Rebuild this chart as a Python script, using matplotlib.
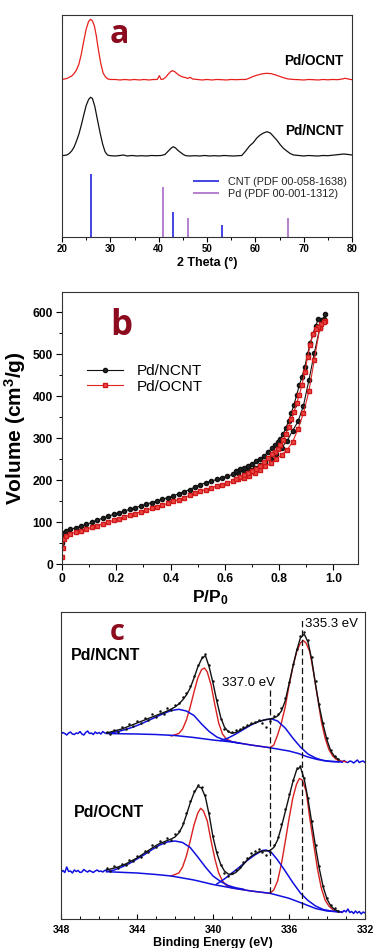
import matplotlib
matplotlib.use('Agg')
import numpy as np
import matplotlib.pyplot as plt
from matplotlib.ticker import MultipleLocator, FixedLocator

plt.rcParams['font.family'] = ['Liberation Sans', 'DejaVu Sans']
plt.rcParams['font.weight'] = 'bold'
plt.rcParams['axes.labelweight'] = 'bold'
plt.rcParams['mathtext.fontset'] = 'custom'
plt.rcParams['mathtext.rm'] = 'Liberation Sans:bold'
plt.rcParams['mathtext.it'] = 'Liberation Sans:bold'
plt.rcParams['mathtext.bf'] = 'Liberation Sans:bold'

# ---------------- (a) XRD ----------------
xrd_2t_ocnt = [20, 21, 22, 22.5, 23, 23.5, 24, 24.5, 25, 25.5,
               25.9, 26.3, 26.7, 27.1, 27.5, 28, 28.5, 29, 29.5, 30,
               31, 32, 33, 34, 35, 36, 37, 38, 39, 39.7,
               40.15, 40.5, 41, 41.5, 42, 42.5, 42.9, 43.4, 44, 44.5,
               45, 45.5, 46, 46.5, 47, 48, 49, 50, 51, 52,
               53, 54, 55, 56, 57, 58, 58.6, 59.5, 60.5, 61.5,
               62.4, 63.3, 64.2, 65.1, 66, 66.8, 68, 69, 70, 71,
               72, 73, 74, 75, 76, 77, 78, 78.6, 79.2, 80]
xrd_int_ocnt = [157.5, 158.5, 161, 163.5, 167, 173, 183, 196, 208, 215.5,
                217.7, 216, 211, 201, 188, 174, 164, 160, 158, 157.5,
                157.5, 157, 157.5, 157, 157.5, 157, 157.5, 157, 157.5, 157.5,
                161.3, 157.5, 158, 160, 163, 165.5, 166.3, 165, 162.5, 161,
                160, 159.5, 158.5, 159.7, 158, 157.5, 157, 157.5, 157, 157.5,
                157.3, 157, 157.5, 157.3, 157.5, 157.5, 158.5, 160.5, 162, 163.2,
                163.7, 163.3, 162, 160.5, 159, 158, 157.5, 157.3, 157, 157.5,
                157.3, 157, 157.5, 157.2, 157.5, 157.3, 158, 158.7, 158, 157.3]

xrd_2t_ncnt = [20, 21, 21.5, 22, 22.5, 23, 23.5, 24, 24.5, 25,
               25.5, 25.9, 26.3, 26.8, 27.3, 27.9, 28.4, 28.9, 29.4, 30,
               31, 32, 32.7, 33.5, 34.5, 35.5, 36.5, 37.5, 38.5, 39.5,
               40.5, 41.3, 42, 42.5, 43, 43.5, 44, 44.6, 45.1, 45.6,
               46.5, 47.5, 48.5, 49.5, 50.5, 51.5, 52.5, 53.5, 54.5, 55.5,
               56.5, 57.2, 58, 58.8, 59.6, 60.3, 61, 61.7, 62.4, 63.1,
               63.8, 64.5, 65.2, 65.8, 66.5, 67.2, 67.9, 69, 70, 71,
               72, 73, 74, 75, 76, 77, 78.3, 79.2, 80]
xrd_int_ncnt = [81.3, 82, 83.5, 86, 90, 96, 103, 112, 122, 131.5,
                137.5, 139.7, 138.5, 130.3, 118, 103.7, 93, 85.3, 82, 81.3,
                81, 81.5, 82, 81, 81.5, 81, 81.3, 81, 81.5, 81.3,
                81.5, 82.5, 86, 88.5, 90.3, 89, 86.5, 84.3, 82.5, 81.3,
                81, 81.3, 81, 81.5, 81, 81.3, 81, 81.5, 81.2, 81,
                81.3, 81.5, 86, 91, 94.5, 99, 102, 104, 105.3, 104,
                100.3, 96.5, 92, 88.7, 86, 83.5, 82, 81.5, 81, 81.5,
                81.2, 81, 81.5, 81.3, 81.8, 82.3, 83, 82.5, 82]

cnt_ref_pos = [25.95, 42.93, 53.2]
cnt_ref_int = [63, 25, 12.3]
pd_ref_pos = [40.85, 46.03, 66.75]
pd_ref_int = [50, 18.7, 18.7]

# ---------------- (b) N2 isotherms ----------------
p_ads = [0.0005, 0.002, 0.006, 0.015, 0.03, 0.05, 0.07, 0.09, 0.11, 0.13,
         0.15, 0.17, 0.19, 0.21, 0.23, 0.25, 0.27, 0.29, 0.31, 0.33,
         0.35, 0.37, 0.39, 0.41, 0.43, 0.45, 0.47, 0.49, 0.51, 0.53,
         0.55, 0.57, 0.59, 0.61, 0.63, 0.65, 0.67, 0.69, 0.71, 0.73,
         0.75, 0.77, 0.79, 0.81, 0.83, 0.85, 0.87, 0.89, 0.91, 0.93,
         0.95, 0.97]
v_ads_ncnt = [50, 66, 74, 79, 83, 87, 91, 95, 100, 105,
              110, 114, 119, 123, 127, 131, 135, 139, 143, 147,
              151, 155, 159, 163, 168, 173, 178, 184, 190, 194,
              198, 202, 206, 210, 214, 218, 222, 226, 230, 236,
              243, 251, 263, 278, 294, 318, 340, 378, 438, 503,
              562, 596]
v_ads_ocnt = [18, 38, 60, 67, 72, 77, 80, 84, 88, 92,
              96, 100, 105, 109, 113, 117, 121, 125, 129, 133,
              137, 141, 145, 150, 154, 159, 164, 169, 174, 178,
              182, 186, 190, 194, 198, 202, 206, 211, 217, 224,
              233, 242, 251, 261, 273, 291, 322, 360, 412, 487,
              562, 578]
p_des = [0.965, 0.955, 0.945, 0.935, 0.925, 0.915, 0.905, 0.895, 0.885, 0.875,
         0.865, 0.855, 0.845, 0.835, 0.825, 0.815, 0.805, 0.795, 0.785, 0.775,
         0.76, 0.745, 0.73, 0.715, 0.70, 0.685, 0.67, 0.655, 0.64]
v_des_ncnt = [585, 581, 584, 568, 548, 527, 500, 470, 447, 427,
              403, 380, 360, 341, 324, 310, 298, 290, 283, 277,
              268, 258, 251, 245, 239, 234, 230, 226, 222]
v_des_ocnt = [577, 572, 566, 560, 548, 522, 493, 458, 428, 404,
              383, 362, 345, 328, 311, 295, 283, 275, 267, 262,
              252, 244, 235, 227, 222, 217, 213, 208, 204]

# ---------------- (c) XPS Pd 3d ----------------
be_grid = np.round(np.arange(345.6, 333.3, -0.2), 1)
be_left = np.round(np.arange(348.0, 345.55, -0.1), 1)
be_right = np.round(np.arange(333.4, 331.95, -0.1), 1)

ncnt_raw = [187.5, 185, 189.5, 187, 192, 190, 195.5, 193, 198, 196,
            201.5, 199, 205, 202, 208, 205, 211, 209, 214.5, 216,
            222, 226, 233, 243, 254, 262, 265, 254, 238, 219,
            200.5, 190, 188.5, 187, 189, 190, 192.5, 194, 196, 197,
            199.5, 196, 192.5, 198.5, 203, 205.5, 211, 221, 237.5, 255,
            270.5, 283, 287, 279, 262, 238, 215, 196.5, 181, 169,
            163.5, 160]
ncnt_fit = [186, 187, 188, 189, 190, 191.5, 193, 194.5, 196, 197.5,
            199, 200.5, 202, 203.5, 205, 206.5, 208, 210, 212, 215,
            219, 224, 231, 241, 252, 260, 263.5, 252, 236, 218,
            202, 192, 187.5, 185.7, 186.5, 188.5, 190.5, 192.5, 194.5, 196,
            197.5, 198.5, 199.5, 200, 201, 203, 208, 218, 235, 252,
            268, 281, 285, 277, 259, 234, 212, 194, 179, 168,
            162.5, 159.5]
ncnt_edge_left = [185, 186.5, 185.5, 184, 186, 187, 185, 184.5, 186, 185.5,
                  187.5, 185, 184, 186.5, 188, 185.5, 186, 184.5, 187, 185.5,
                  186.5, 185, 187.5, 186, 186]
ncnt_edge_right = [159.5, 158, 157, 158.5, 157, 156.5, 158, 157.5, 156, 157.5,
                   159, 156.5, 157.5, 158, 156.5]

ncnt_bg_be = [345.6, 344.0, 343.0, 342.0, 341.0, 340.0, 339.0, 338.0, 337.0, 336.0,
              335.5, 335.0, 334.5, 334.0, 333.5, 333.2]
ncnt_bg = [185.5, 185, 184.5, 183.5, 181.5, 179, 177, 174, 171.3, 168,
           165.5, 162, 159.5, 158, 157.3, 157]
ncnt_ox1_be = [345.4, 345.0, 344.6, 344.2, 343.8, 343.4, 343.0, 342.6, 342.2, 341.8,
               341.4, 341.0, 340.6, 340.2, 339.8, 339.4, 339.0, 338.6]
ncnt_ox1 = [186, 187.5, 189.5, 192, 195, 198.5, 202, 205.5, 208.5, 209.7,
            208, 203.5, 195, 187.5, 182, 179, 177.3, 175.8]
ncnt_m1_be = [342.2, 341.8, 341.6, 341.4, 341.2, 341.0, 340.8, 340.6, 340.45, 340.3,
              340.1, 339.9, 339.7, 339.5, 339.3, 339.0, 338.0, 337.0]
ncnt_m1 = [183, 185.5, 190, 199, 212, 227, 241, 249.5, 251, 247,
           234, 214, 196, 185, 180, 177.3, 174, 171.3]
ncnt_ox2_be = [339.6, 339.2, 338.8, 338.4, 338.0, 337.6, 337.2, 336.9, 336.6, 336.2,
               335.8, 335.4, 335.0, 334.6, 334.2, 333.8, 333.4]
ncnt_ox2 = [178.5, 181, 185, 189.5, 194, 197.5, 199.5, 200, 198, 191,
            181, 172, 165, 161, 158.5, 157.5, 157.2]
ncnt_m2_be = [337.0, 336.8, 336.6, 336.4, 336.2, 336.0, 335.8, 335.6, 335.4, 335.25,
              335.1, 334.9, 334.7, 334.5, 334.3, 334.1, 333.9, 333.7, 333.5, 333.3, 333.0]
ncnt_m2 = [171.3, 174, 184, 196, 212, 233, 252, 267, 276, 278.5,
           276, 267, 246, 222, 198, 181, 169.5, 163, 159.5, 158, 157.3]

ocnt_raw = [50.5, 48, 52.5, 50.5, 55, 54, 58.5, 57.5, 63, 62,
            68, 67, 74, 72, 78.5, 76, 81, 79, 85, 88,
            96, 106.5, 118, 128, 134.5, 132, 124.5, 106, 83, 66.5,
            54, 46, 43, 45.5, 49, 52, 57, 61, 65.5, 68,
            70, 66.5, 63.5, 67, 74, 82, 95, 110, 125, 139.5,
            151, 153, 141, 121.5, 98, 74, 52.5, 33, 21, 13.5,
            11, 8]
ocnt_fit = [49, 50, 51, 52, 53.5, 55, 57, 59, 61, 63.5,
            66, 68.5, 71, 73.5, 75.5, 77, 78.5, 80, 82, 86,
            93, 104, 116, 126, 132.5, 131, 122, 104, 82, 66,
            55, 48, 45, 44.5, 46.5, 50, 54.5, 59, 62.5, 65,
            67, 68, 68, 68.5, 71.5, 79, 92, 107, 122, 137,
            149, 152, 140, 120, 96, 72, 50, 32, 20, 13,
            9.5, 7.5]
ocnt_edge_left = [47, 48.5, 46.5, 52, 47.5, 48, 46, 49, 47.5, 48.5,
                  46.5, 47, 49.5, 48, 47, 48.5, 47.5, 46.5, 48, 49,
                  47.5, 48, 47, 48.5, 49]
ocnt_edge_right = [8, 7, 6.5, 8.5, 7, 10, 6.5, 7.5, 5.5, 8,
                   6, 7.5, 5, 7, 6]

ocnt_bg_be = [345.6, 344.0, 343.0, 342.2, 341.0, 340.0, 339.0, 338.0, 337.0, 336.0,
              335.3, 334.6, 334.0, 333.5, 333.2]
ocnt_bg = [47.3, 46, 44.5, 43, 39, 34.5, 31, 28, 25.7, 20.7,
           15.7, 10.5, 8, 7.3, 7]
ocnt_ox1_be = [345.6, 345.2, 344.8, 344.4, 344.0, 343.6, 343.2, 342.8, 342.4, 342.0,
               341.6, 341.2, 340.8, 340.4, 340.0, 339.6, 339.2, 338.8, 338.4]
ocnt_ox1 = [47.5, 49, 52, 55.5, 60, 64.5, 69.5, 74, 77, 78,
            76.5, 71.5, 62, 52, 43, 37.5, 33.5, 31.2, 29.8]
ocnt_m1_be = [342.2, 341.8, 341.6, 341.4, 341.2, 341.0, 340.8, 340.65, 340.5, 340.3,
              340.1, 339.9, 339.7, 339.5, 339.3, 339.0, 338.0, 337.0]
ocnt_m1 = [43, 46, 52, 63, 78, 94, 106, 110.7, 108, 98,
           78, 60, 46, 38, 33.5, 31, 28, 25.7]
ocnt_ox2_be = [339.8, 339.4, 339.0, 338.6, 338.2, 337.8, 337.4, 337.2, 336.9, 336.6,
               336.2, 335.8, 335.4, 335.0, 334.6, 334.2, 333.8, 333.4]
ocnt_ox2 = [35, 40, 46, 52, 58.5, 64, 68.5, 69, 66, 59,
            48, 36.5, 26, 18.5, 13, 9.5, 8, 7.3]
ocnt_m2_be = [337.0, 336.8, 336.6, 336.4, 336.2, 336.0, 335.8, 335.6, 335.45, 335.3,
              335.1, 334.9, 334.7, 334.5, 334.3, 334.1, 333.9, 333.7, 333.5, 333.2]
ocnt_m2 = [25.7, 29, 38, 55, 77, 100, 121, 135, 140.5, 139,
           128, 100, 75, 50, 31, 19, 13, 9.5, 7.5, 7]

ref_lines_be = [337.0, 335.3]
ref_lines_top = [229, 299]
ref_lines_bottom = [25.7, 11]

LETTER = '#8c0b1e'
BLUE = '#1010e0'
RED = '#d8201e'

fig = plt.figure(figsize=(3.74, 9.48), dpi=100)
ax_a = fig.add_axes([0.1658, 0.75, 0.7754, 0.2342])
ax_b = fig.add_axes([0.1658, 0.4047, 0.7914, 0.2872])
ax_c = fig.add_axes([0.1631, 0.0306, 0.8128, 0.3238])

for ax in (ax_a, ax_b, ax_c):
    for sp in ax.spines.values():
        sp.set_linewidth(0.8)
        sp.set_color('#333333')

# ---- panel a
ax_a.plot(xrd_2t_ocnt, xrd_int_ocnt, color='#e8201c', lw=0.9)
ax_a.plot(xrd_2t_ncnt, xrd_int_ncnt, color='#111111', lw=0.9)
ax_a.vlines(cnt_ref_pos, 0, cnt_ref_int, color='#2424e0', lw=1.2,
            label='CNT (PDF 00-058-1638)')
ax_a.vlines(pd_ref_pos, 0, pd_ref_int, color='#a76bc6', lw=1.2,
            label='Pd (PDF 00-001-1312)')
ax_a.set_xlim(20, 80)
ax_a.set_ylim(0, 222)
ax_a.set_yticks([])
ax_a.xaxis.set_major_locator(MultipleLocator(10))
ax_a.xaxis.set_minor_locator(MultipleLocator(5))
ax_a.tick_params(axis='x', which='major', direction='out', length=3.5, width=0.8,
                 labelsize=7, pad=1.5)
ax_a.tick_params(axis='x', which='minor', direction='out', length=2, width=0.7)
ax_a.set_xlabel('2 Theta (°)', fontsize=9, labelpad=2)
ax_a.text(78.3, 176, 'Pd/OCNT', fontsize=9.8, ha='right', va='center')
ax_a.text(78.3, 106, 'Pd/NCNT', fontsize=9.8, ha='right', va='center')
ax_a.text(29.9, 194, 'a', fontsize=23, color=LETTER, family='Open Sans',
          fontweight='bold', ha='left', va='baseline')
leg = ax_a.legend(loc='upper left', bbox_to_anchor=(0.45, 0.27), frameon=False,
                  handlelength=2.4, handletextpad=0.9,
                  labelspacing=0.15, borderpad=0, borderaxespad=0,
                  prop={'weight': 'normal', 'size': 7.8})
for t in leg.get_texts():
    t.set_color('#222222')

# ---- panel b
ax_b.plot(p_ads, v_ads_ncnt, '-o', color='#111111', lw=0.8, ms=3,
          mfc='#222222', mec='#111111', label='Pd/NCNT')
ax_b.plot(p_des, v_des_ncnt, '-o', color='#111111', lw=0.8, ms=3,
          mfc='#222222', mec='#111111')
ax_b.plot(p_ads, v_ads_ocnt, '-s', color='#e02424', lw=0.8, ms=3.4,
          mfc='#ea4a4a', mec='#d01818', label='Pd/OCNT')
ax_b.plot(p_des, v_des_ocnt, '-s', color='#e02424', lw=0.8, ms=3.4,
          mfc='#ea4a4a', mec='#d01818')
ax_b.set_xlim(0, 1.091)
ax_b.set_ylim(0, 648)
ax_b.xaxis.set_major_locator(FixedLocator([0, 0.2, 0.4, 0.6, 0.8, 1.0]))
ax_b.set_xticklabels(['0', '0.2', '0.4', '0.6', '0.8', '1.0'])
ax_b.xaxis.set_minor_locator(MultipleLocator(0.1))
ax_b.yaxis.set_major_locator(MultipleLocator(100))
ax_b.yaxis.set_minor_locator(MultipleLocator(50))
ax_b.tick_params(which='major', direction='out', length=4, width=0.8,
                 labelsize=8.7, pad=2.5)
ax_b.tick_params(which='minor', direction='out', length=2.5, width=0.7)
ax_b.set_xlabel('P/P$_0$', fontsize=12.5, labelpad=2)
ax_b.set_ylabel('Volume (cm$^3$/g)', fontsize=15, labelpad=3)
ax_b.text(0.177, 546, 'b', fontsize=25, color=LETTER, family='Open Sans',
          fontweight='bold', ha='left', va='baseline')
ax_b.legend(loc='upper left', bbox_to_anchor=(0.083, 0.735), frameon=False,
            handlelength=2.4, handletextpad=0.9, labelspacing=0.1,
            borderpad=0, borderaxespad=0, numpoints=1,
            prop={'weight': 'normal', 'size': 11})

# ---- panel c
for edge_l, edge_r, bg_be, bg, ox1_be, ox1, m1_be, m1, ox2_be, ox2, m2_be, m2, fit, raw in (
        (ncnt_edge_left, ncnt_edge_right, ncnt_bg_be, ncnt_bg, ncnt_ox1_be, ncnt_ox1,
         ncnt_m1_be, ncnt_m1, ncnt_ox2_be, ncnt_ox2, ncnt_m2_be, ncnt_m2, ncnt_fit, ncnt_raw),
        (ocnt_edge_left, ocnt_edge_right, ocnt_bg_be, ocnt_bg, ocnt_ox1_be, ocnt_ox1,
         ocnt_m1_be, ocnt_m1, ocnt_ox2_be, ocnt_ox2, ocnt_m2_be, ocnt_m2, ocnt_fit, ocnt_raw)):
    ax_c.plot(be_left, edge_l, color=BLUE, lw=1.1)
    ax_c.plot(be_right, edge_r, color=BLUE, lw=1.1)
    ax_c.plot(m1_be, m1, color=RED, lw=1.0)
    ax_c.plot(m2_be, m2, color=RED, lw=1.0)
    ax_c.plot(bg_be, bg, color=BLUE, lw=1.1)
    ax_c.plot(ox1_be, ox1, color=BLUE, lw=1.1)
    ax_c.plot(ox2_be, ox2, color=BLUE, lw=1.1)
    ax_c.plot(be_grid, fit, color='#111111', lw=1.0)
    ax_c.plot(be_grid, raw, 'o', color='#111111', ms=1.8, mew=0)

ax_c.vlines(ref_lines_be, ref_lines_bottom, ref_lines_top, colors='#111111',
            linestyles=(0, (5, 2.5)), lw=0.9)
ax_c.text(336.72, 236, '337.0 eV', fontsize=9.5, fontweight='normal',
          ha='right', va='center')
ax_c.text(335.15, 295, '335.3 eV', fontsize=9.5, fontweight='normal',
          ha='left', va='center')
ax_c.text(347.5, 264, 'Pd/NCNT', fontsize=11.5, ha='left', va='center')
ax_c.text(347.3, 107, 'Pd/OCNT', fontsize=11.5, ha='left', va='center')
ax_c.text(345.42, 279, 'c', fontsize=21, color=LETTER, family='Open Sans',
          fontweight='bold', ha='left', va='baseline')
ax_c.set_xlim(348, 332)
ax_c.set_ylim(0, 307)
ax_c.set_yticks([])
ax_c.xaxis.set_major_locator(MultipleLocator(4))
ax_c.xaxis.set_minor_locator(MultipleLocator(1))
ax_c.tick_params(axis='x', which='major', direction='in', length=3.5, width=0.8,
                 labelsize=7.5, pad=4)
ax_c.tick_params(axis='x', which='minor', direction='in', length=2.2, width=0.7)
ax_c.set_xlabel('Binding Energy (eV)', fontsize=9, labelpad=1.5)

fig.savefig('out.png', dpi=100)
